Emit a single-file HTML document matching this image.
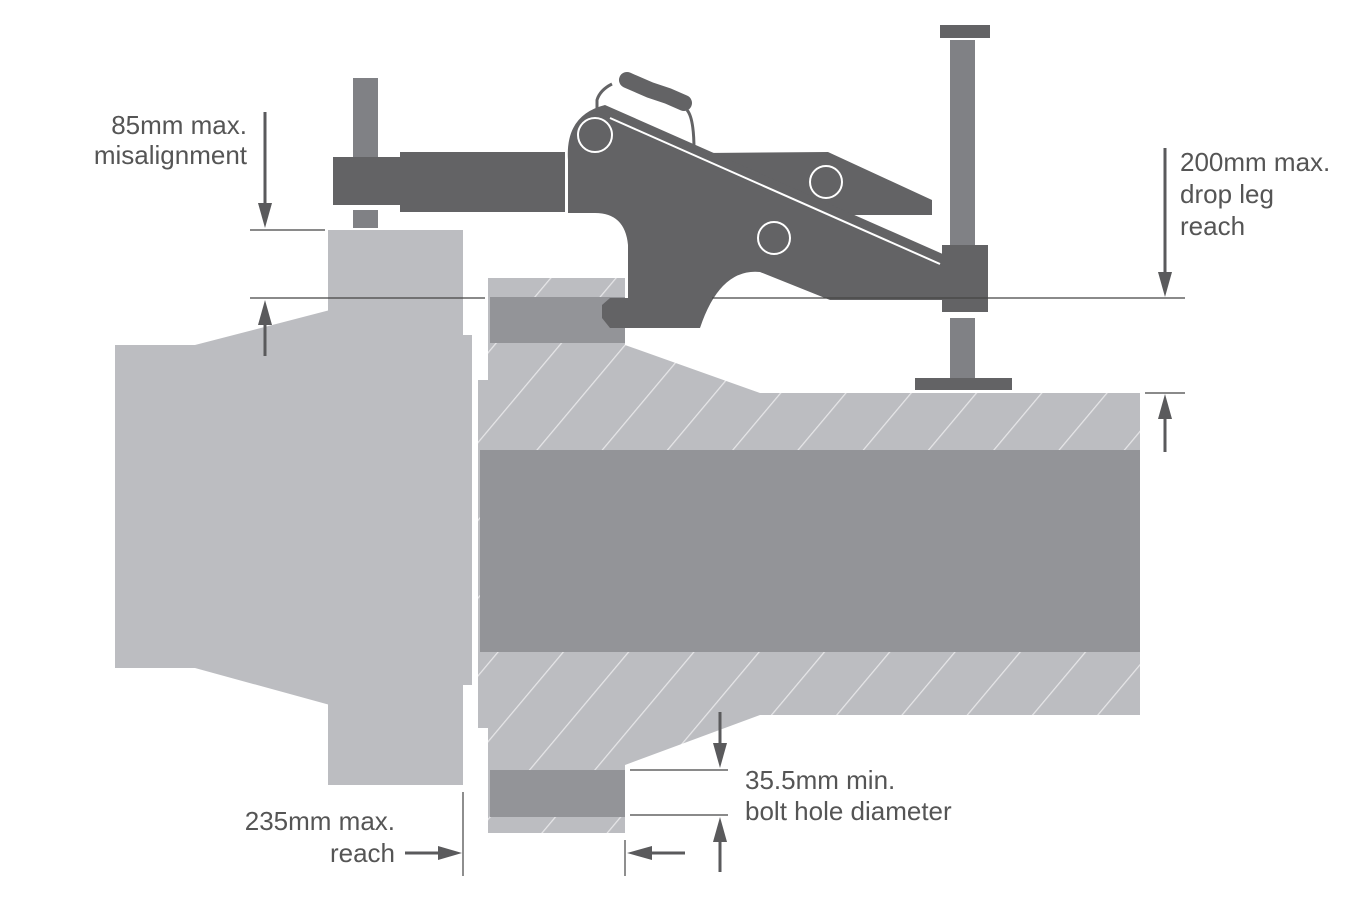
<!DOCTYPE html>
<html><head><meta charset="utf-8"><style>
html,body{margin:0;padding:0;background:#fff}
svg{display:block}
text{font-family:"Liberation Sans",sans-serif;font-size:26px;fill:#555}
</style></head><body>
<svg width="1368" height="922" viewBox="0 0 1368 922" xmlns="http://www.w3.org/2000/svg">
<defs>
<pattern id="h" patternUnits="userSpaceOnUse" width="50" height="50" patternTransform="rotate(40)">
<rect width="50" height="50" fill="#bcbdc1"/>
<line x1="0" y1="0" x2="0" y2="50" stroke="#e6e6e8" stroke-width="2.5"/>
</pattern>
</defs>
<polygon points="115,345 195,345 330,310 330,705 195,668 115,668" fill="#bcbdc1"/>
<rect x="328" y="230" width="135" height="555" fill="#bcbdc1"/>
<rect x="463" y="335" width="9" height="350" fill="#bcbdc1"/>
<polygon points="488,278 625,278 625,345 760,393 1140,393 1140,715 760,715 625,765 625,833 488,833 488,728 478,728 478,380 488,380" fill="url(#h)"/>
<rect x="480" y="450" width="660" height="202" fill="#939498"/>
<rect x="490" y="297" width="135" height="46" fill="#939498"/>
<rect x="490" y="770" width="135" height="47" fill="#939498"/>
<rect x="353" y="78" width="25" height="80" fill="#808185"/>
<rect x="353" y="210" width="25" height="18" fill="#808185"/>
<rect x="333" y="157" width="70" height="48" fill="#636365"/>
<rect x="400" y="152" width="165" height="60" fill="#636365"/>
<path d="M597,118 L597,100 Q600,90 612,84" fill="none" stroke="#636365" stroke-width="3"/>
<path d="M687,110 Q694,118 694,150" fill="none" stroke="#636365" stroke-width="3"/>
<path d="M627,80 L650,90 L668,96 L684,103" fill="none" stroke="#636365" stroke-width="16" stroke-linecap="round"/>
<polygon points="705,153 828,152 932,200 932,215 835,215 700,150" fill="#636365"/>
<path d="M568,160 Q565,115 605,105 L945,255 L945,300 L830,300 L760,272 Q720,268 700,328 L610,328 L602,318 L602,305 L610,298 L628,298 L628,245 Q625,213 595,213 L568,213 Z" fill="#636365"/>
<line x1="610" y1="118" x2="940" y2="264" stroke="#fff" stroke-width="2"/>
<rect x="942" y="245" width="46" height="67" fill="#636365"/>
<rect x="950" y="40" width="25" height="205" fill="#808185"/>
<rect x="940" y="25" width="50" height="13" fill="#636365"/>
<rect x="950" y="318" width="25" height="62" fill="#808185"/>
<rect x="915" y="378" width="97" height="12" fill="#636365"/>
<circle cx="595" cy="135" r="17" fill="none" stroke="#fff" stroke-width="2"/>
<circle cx="826" cy="182" r="16" fill="none" stroke="#fff" stroke-width="2"/>
<circle cx="774" cy="238" r="16" fill="none" stroke="#fff" stroke-width="2"/>
<g stroke="#444" stroke-width="1.2">
<line x1="250" y1="230" x2="325" y2="230"/>
<line x1="250" y1="298" x2="485" y2="298"/>
<line x1="712" y1="298" x2="1185" y2="298"/>
<line x1="1145" y1="393" x2="1185" y2="393"/>
<line x1="630" y1="770" x2="728" y2="770"/>
<line x1="630" y1="815" x2="728" y2="815"/>
<line x1="463" y1="792" x2="463" y2="876"/>
<line x1="625" y1="840" x2="625" y2="876"/>
</g>
<g stroke="#5a5a5c" stroke-width="3">
<line x1="265" y1="112" x2="265" y2="210"/>
<line x1="265" y1="318" x2="265" y2="356"/>
<line x1="1165" y1="148" x2="1165" y2="278"/>
<line x1="1165" y1="412" x2="1165" y2="452"/>
<line x1="720" y1="712" x2="720" y2="750"/>
<line x1="720" y1="835" x2="720" y2="872"/>
<line x1="405" y1="853" x2="445" y2="853"/>
<line x1="645" y1="853" x2="685" y2="853"/>
</g>
<g fill="#5a5a5c">
<polygon points="258,203 272,203 265,228"/>
<polygon points="258,325 272,325 265,300"/>
<polygon points="1158,272 1172,272 1165,297"/>
<polygon points="1158,419 1172,419 1165,394"/>
<polygon points="713,743 727,743 720,768"/>
<polygon points="713,842 727,842 720,817"/>
<polygon points="438,846 438,860 462,853"/>
<polygon points="652,846 652,860 627,853"/>
</g>
<text x="247" y="134" text-anchor="end">85mm max.</text>
<text x="247" y="164" text-anchor="end">misalignment</text>
<text x="1180" y="171">200mm max.</text>
<text x="1180" y="203">drop leg</text>
<text x="1180" y="235">reach</text>
<text x="745" y="789">35.5mm min.</text>
<text x="745" y="820">bolt hole diameter</text>
<text x="395" y="830" text-anchor="end">235mm max.</text>
<text x="395" y="862" text-anchor="end">reach</text>
</svg>
</body></html>
